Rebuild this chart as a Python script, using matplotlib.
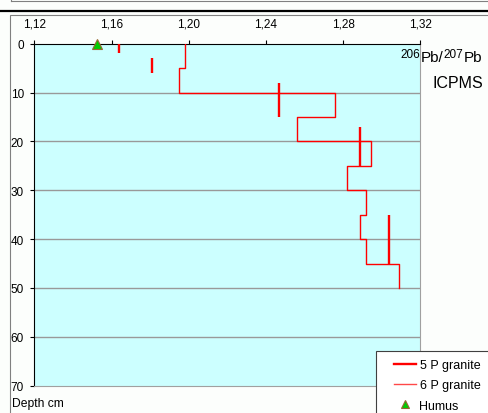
import matplotlib
matplotlib.use("Agg")
import matplotlib.pyplot as plt
from matplotlib.lines import Line2D
from matplotlib.patches import Rectangle
import numpy as np

plt.rcParams['font.family'] = ['Liberation Sans', 'DejaVu Sans']

# 206Pb/207Pb ratios against depth (cm)
p5_ratio = [1.164, 1.181, 1.247, 1.289, 1.304]
p5_top = [0, 3, 8, 17, 35]
p5_bottom = [2, 6, 15, 25, 45]

p6_ratio = [1.198, 1.195, 1.276, 1.256, 1.2945, 1.282, 1.292, 1.2885, 1.292, 1.309]
p6_top = [0, 5, 10, 15, 20, 25, 30, 35, 40, 45]
p6_bottom = [5, 10, 15, 20, 25, 30, 35, 40, 45, 50]

humus_ratio = [1.1526]
humus_depth = [0]

x_ticks = [1.12, 1.16, 1.20, 1.24, 1.28, 1.32]
x_labels = ['1,12', '1,16', '1,20', '1,24', '1,28', '1,32']
y_ticks = [0, 10, 20, 30, 40, 50, 60, 70]

W, H = 488, 414
fig = plt.figure(figsize=(W / 100, H / 100), dpi=100, facecolor='#FCFEFC')


def fx(px):
    return px / W


def fy(py):
    return 1 - py / H


ax = fig.add_axes([fx(34.4), fy(386.7), fx(420.3) - fx(34.4), fy(44.7) - fy(386.7)])
ax.set_facecolor('#CCFFFF')
ax.set_xlim(1.12, 1.32)
ax.set_ylim(70, 0)

# horizontal grid
for d in y_ticks[1:-1]:
    ax.axhline(d, color='#999999', lw=1.0, zorder=1)

# 6 P granite as a stepped profile
xs6 = np.repeat(p6_ratio, 2)
ys6 = np.column_stack([p6_top, p6_bottom]).ravel()
ax.plot(xs6, ys6, color='#FF0000', lw=1.0, zorder=3)

# 5 P granite as separate sample intervals
for v, t, b in zip(p5_ratio, p5_top, p5_bottom):
    ax.plot([v, v], [t, b], color='#FF0000', lw=1.7, solid_capstyle='butt', zorder=4)

ax.plot(humus_ratio, humus_depth, linestyle='none', marker='^', markersize=7,
        markerfacecolor='#00CC00', markeredgecolor='#996633', markeredgewidth=0.8,
        clip_on=False, zorder=5)

ax.xaxis.tick_top()
ax.set_xticks(x_ticks)
ax.set_xticklabels(x_labels)
ax.set_yticks(y_ticks)
ax.tick_params(axis='x', direction='out', length=3, width=0.8, pad=7.5, labelsize=8.5, colors='black')
ax.tick_params(axis='y', direction='out', length=3, width=0.8, pad=4.5, labelsize=8.5, colors='black')

ax.spines['left'].set_color('black')
ax.spines['top'].set_color('black')
ax.spines['left'].set_linewidth(0.8)
ax.spines['top'].set_linewidth(0.8)
ax.spines['right'].set_color('#A0A0A0')
ax.spines['bottom'].set_color('#A0A0A0')
ax.spines['right'].set_linewidth(0.8)
ax.spines['bottom'].set_linewidth(0.8)

fig.text(fx(12), fy(407), 'Depth cm', fontsize=8.7, va='baseline', ha='left')

# ratio title, built piecewise for the superscripts
sup_y = fy(57.5)
t_pb1 = fig.text(fx(421), fy(62.5), 'Pb/', fontsize=11, va='baseline', ha='left')
fig.text(fx(420.5), sup_y, '206', fontsize=8.5, va='baseline', ha='right')
t_207 = ax.annotate('207', xy=(1, sup_y), xycoords=(t_pb1, 'figure fraction'),
                    fontsize=8.5, ha='left', va='baseline')
ax.annotate('Pb', xy=(1, fy(62.5)), xycoords=(t_207, 'figure fraction'),
            fontsize=11, ha='left', va='baseline')
fig.text(fx(432.7), fy(87.5), 'ICPMS', fontsize=11.5, va='baseline', ha='left')

# legend frame and entries
frame = Rectangle((fx(376), fy(H + 5)), fx(W + 5) - fx(376), fy(352.3) - fy(H + 5),
                  transform=fig.transFigure, facecolor='white',
                  edgecolor='#404040', lw=0.8, zorder=9, clip_on=False)
ax.add_artist(frame)
handles = [
    Line2D([], [], color='#FF0000', lw=1.7),
    Line2D([], [], color='#FF4848', lw=1.0),
    Line2D([], [], linestyle='none', marker='^', markersize=6,
           markerfacecolor='#00CC00', markeredgecolor='#996633', markeredgewidth=0.8),
]
leg = ax.legend(handles, ['5 P granite', '6 P granite', 'Humus'],
                loc='upper left', bbox_to_anchor=(fx(387), fy(353.5)),
                bbox_transform=fig.transFigure, fontsize=9, frameon=False,
                borderpad=0.55, handlelength=1.8,
                handletextpad=0.25, labelspacing=0.65, borderaxespad=0)
leg.set_zorder(10)

# outer frames
fig.add_artist(Line2D([fx(11), fx(W)], [fy(1.5), fy(1.5)], color='#808080', lw=0.8))
fig.add_artist(Line2D([fx(11), fx(11)], [fy(0), fy(1.5)], color='#808080', lw=0.8))
fig.add_artist(Line2D([0, 1], [fy(12), fy(12)], color='black', lw=1.6))
fig.add_artist(Rectangle((fx(10), fy(H + 5)), fx(W + 5) - fx(10), fy(15.7) - fy(H + 5),
                         transform=fig.transFigure, fill=False, edgecolor='#808080', lw=0.8))

fig.savefig('out.png', dpi=100, facecolor=fig.get_facecolor())
